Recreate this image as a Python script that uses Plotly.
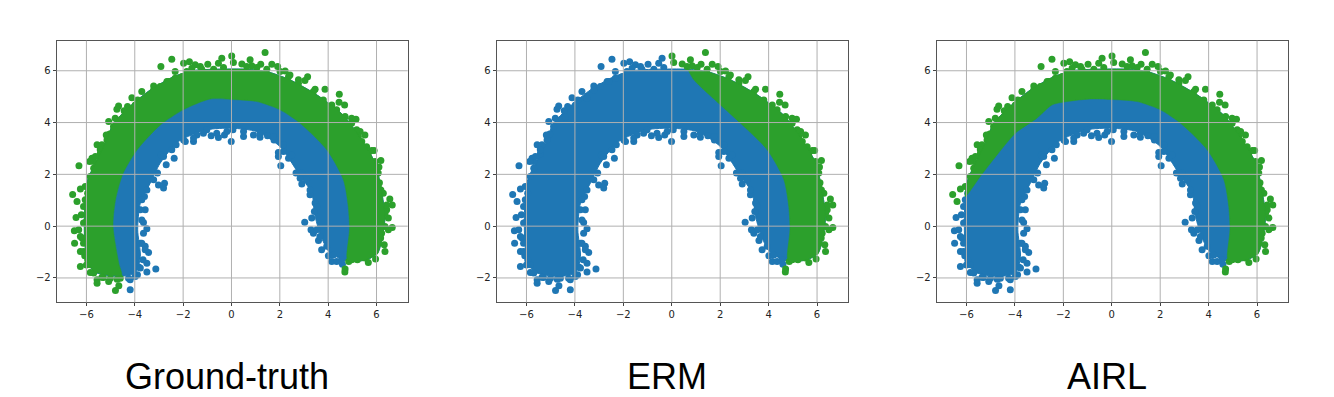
import plotly.graph_objects as go

BLUE = "#1f77b4"
GREEN = "#2ca02c"
GRID = "rgb(176,176,176)"

X_TICKS = [-6, -4, -2, 0, 2, 4, 6]
Y_TICKS = [-2, 0, 2, 4, 6]
PANEL_TITLES = ["Ground-truth", "ERM", "AIRL"]

# solid band: outer edge, left tail to right tip
OUTER = [(-5.70,-1.75),(-6.00,-1.17),(-6.08,-0.40),(-6.08,0.63),(-5.95,1.79),(-5.70,2.30),(-5.22,3.20),
         (-4.88,3.97),(-4.05,4.75),(-3.36,5.26),(-2.40,5.77),(-1.57,6.01),(-0.61,6.06),(0.63,6.06),
         (1.46,5.97),(2.42,5.65),(3.53,5.07),(4.63,4.28),(5.35,3.38),(5.95,2.43),(6.20,1.40),(6.35,0.37),
         (6.25,-0.40),(6.05,-1.04),(5.59,-1.30),(4.83,-1.36)]
# solid band: inner edge, right tip back to left tail
INNER = [(4.63,-1.30),(4.08,-1.04),(3.73,-0.46),(3.46,0.37),(3.32,1.27),(2.77,2.04),(2.01,3.07),(1.05,3.65),
         (0.01,3.78),(-1.02,3.72),(-2.19,3.27),(-2.95,2.43),(-3.36,1.66),(-3.77,0.89),(-3.88,-0.14),
         (-3.77,-1.17),(-3.98,-1.81),(-4.74,-1.94)]
# class boundaries, left to right
BOUNDARY_RIGHT = [(2.84,3.97),(3.94,2.95),(4.63,1.79),(4.83,0.76),(4.88,-0.14),(4.77,-1.17)]
BOUNDARY_TOP = [(-0.88,4.91),(0.01,4.89),(1.05,4.81),(2.01,4.49)]
GT_LEFT = [(-4.55,-1.89),(-4.66,-1.44),(-4.90,0.00),(-4.80,1.00),(-4.50,2.00),(-3.91,2.94),(-2.95,3.90),(-2.00,4.49)]
ERM_TOP = [(0.63,6.10),(0.91,5.65),(2.01,4.68)]
AIRL_LEFT = [(-6.05,1.14),(-5.43,1.92),(-4.74,2.75),(-3.98,3.59),(-3.09,4.17),(-2.47,4.68),(-1.85,4.81)]

# individually visible points along the edges
PTS_LEFT_TAIL = [(-6.43,0.33),(-6.21,0.44),(-6.05,0.14),(-6.50,-0.18),(-6.32,-0.14),(-6.49,-0.66),(-6.18,-0.46),
                 (-6.25,-0.98),(-6.07,-1.14),(-6.25,-1.56),(-5.84,-1.79),(-5.56,-2.07),(-5.56,-2.20),(-5.08,-2.14),
                 (-4.80,-2.48),(-4.66,-2.30),(-4.73,-2.05),(-5.30,-1.98),(-6.00,-1.50),
                 (-5.95,1.27),(-6.05,1.02),(-6.12,0.76),(-6.12,0.12),(-6.25,-0.40),(-6.12,-0.66),(-6.12,-0.98),
                 (-5.95,-1.30),(-5.84,-1.49),(-5.70,-1.81),(-5.36,-1.97),(-5.01,-2.01),(-4.60,-2.01)]
PTS_UPPER_LEFT = [(-6.31,2.33),(-6.25,1.43),(-6.57,1.22),(-6.39,0.95),(-6.05,1.53),(-5.77,2.62),(-5.70,2.50),
                  (-5.87,2.50),(-5.56,3.14),(-5.36,3.14),(-5.43,2.79),(-5.08,4.04),(-5.04,3.56),(-4.67,4.64),
                  (-4.74,4.51),(-4.30,4.62),(-4.44,4.46),(-4.12,4.96),(-3.71,5.20),(-3.22,5.41),(-2.92,6.16),
                  (-2.47,6.44),(-2.67,5.58),(-2.33,5.97),(-1.98,6.29),(-1.74,6.35),(-1.50,6.23),(-1.29,6.16),
                  (-0.98,6.25),(-0.54,6.29),(-0.40,6.48),
                  (-5.84,1.92),(-5.70,2.24),(-5.63,2.69),(-5.43,2.95),(-5.15,3.33),(-5.18,3.52),(-4.88,3.85),
                  (-4.81,4.17),(-4.39,4.21),(-3.98,4.68),(-3.88,4.87),(-3.50,4.94),(-3.22,5.26),(-2.95,5.39),
                  (-2.60,5.58),(-2.33,5.71),(-2.05,5.77),(-1.85,5.97),(-1.64,6.10),(-1.23,6.06),(-0.74,6.06),
                  (-0.33,6.13)]
PTS_UPPER_RIGHT = [(0.01,6.57),(0.43,6.26),(0.77,6.42),(0.84,6.19),(1.21,6.25),(1.39,6.70),(1.67,6.25),(1.91,6.16),
                   (2.22,5.99),(2.42,5.84),(2.77,5.65),(3.15,5.77),(3.04,5.62),(3.46,5.29),(3.87,5.29),(4.46,5.09),
                   (4.45,4.78),(4.68,4.68),(4.97,4.17),(5.15,4.13),(5.32,3.65),(5.52,3.52),(5.25,3.46),(5.59,3.07),
                   (5.80,2.92),(5.90,2.92),(6.18,2.53),(6.10,2.28),(6.07,2.05),(6.12,1.68),(6.18,1.40),(6.55,1.05),
                   (6.65,0.82),(6.42,0.63),(6.49,0.31),(6.65,-0.05),(6.49,-0.14),(6.17,-0.46),(6.32,-0.72),
                   (6.35,-0.98),(5.96,-1.27),(5.66,-1.40),(5.21,-1.30),(4.85,-1.36),(4.70,-1.65),(4.69,-1.77),
                   (0.08,6.32),(0.63,6.16),(1.05,6.13),(1.46,6.06),(2.01,5.97),(2.36,5.77),(2.77,5.52),(3.39,5.20),
                   (3.80,4.87),(4.15,4.68),(4.35,4.49),(4.70,4.23),(4.97,3.97),(5.18,3.72),(5.39,3.27),(5.66,2.82),
                   (5.94,2.50),(5.94,2.05),(6.07,1.53),(6.28,1.27),(6.42,0.82),(6.35,0.50),(6.35,-0.01),(6.21,-0.27),
                   (6.07,-0.66),(5.94,-0.98),(5.52,-1.23),(4.97,-1.30)]
PTS_INNER = [(-4.19,-2.46),(-4.19,-2.07),(-3.89,-1.88),(-3.50,-1.77),(-3.13,-1.65),(-3.84,-1.58),(-3.50,-1.43),
             (-3.43,-1.02),(-3.57,-0.78),(-3.71,-0.66),(-3.50,-0.10),(-3.64,0.14),(-3.57,0.63),(-3.60,1.14),
             (-3.02,1.59),(-2.77,1.66),(-2.81,1.47),(-2.70,2.37),(-2.37,2.62),(-2.91,2.75),(-2.29,3.14),(-1.91,3.27),
             (-1.57,3.27),(-1.43,3.52),(-1.02,3.72),(-0.84,3.49),(-0.54,3.42),(-0.29,3.52),(-0.01,3.27),(0.06,3.72),
             (0.50,3.46),(0.91,3.52),(1.18,3.43),(1.49,3.49),(1.76,3.33),(1.94,2.84),(1.94,2.69),(2.15,2.88),
             (2.36,2.62),(2.04,2.33),(2.67,2.05),(2.84,1.85),(2.91,1.63),(3.25,1.21),(3.46,0.89),(3.43,0.57),
             (3.03,0.15),(3.32,0.31),(3.29,-0.14),(3.39,-0.27),(3.60,-0.55),(3.73,-0.91),(4.01,-1.14),(4.15,-1.36),
             (4.35,-1.36),(4.59,-1.47),
             (-4.26,-2.01),(-3.98,-1.94),(-3.77,-1.62),(-3.66,-1.30),(-3.57,-0.91),(-3.77,-0.66),(-3.64,-0.27),
             (-3.71,0.24),(-3.77,0.63),(-3.71,1.02),(-3.50,1.40),(-3.22,1.79),(-3.06,2.05),(-2.81,2.69),(-2.47,2.95),
             (-1.98,3.33),(-1.57,3.40),(-1.16,3.59),(-0.61,3.59),(-0.19,3.65),(0.50,3.65),(1.18,3.59),(1.74,3.46),
             (2.15,3.14),(2.49,2.75),(2.91,2.05),(3.11,1.79),(3.25,1.40),(3.53,0.76),(3.53,-0.14),(3.66,-0.40),
             (3.94,-0.78),(4.21,-1.11),(4.56,-1.30)]

W, H = 1334, 397
PANELS_PX = [(56.7, 407.7), (496.7, 848.3), (936.7, 1288.3)]
TOP_PX, BOTTOM_PX = 40.7, 302.3
TITLE_X_PX = [226.5, 667, 1107]
TITLE_Y_PX = 376
MARKER_SIZE = 7

BAND = OUTER + INNER
GREEN_POLY = [
    OUTER + (GT_LEFT + BOUNDARY_TOP + BOUNDARY_RIGHT)[::-1],
    OUTER[13:] + (ERM_TOP + BOUNDARY_RIGHT)[::-1],
    OUTER[4:] + (AIRL_LEFT + BOUNDARY_TOP + BOUNDARY_RIGHT)[::-1],
]
POINTS_GREEN = [PTS_LEFT_TAIL + PTS_UPPER_LEFT + PTS_UPPER_RIGHT, PTS_UPPER_RIGHT, PTS_UPPER_LEFT + PTS_UPPER_RIGHT]
POINTS_BLUE = [PTS_INNER, PTS_LEFT_TAIL + PTS_UPPER_LEFT + PTS_INNER, PTS_LEFT_TAIL + PTS_INNER]


def xy(points):
    return [p[0] for p in points], [p[1] for p in points]


fig = go.Figure()
layout = dict(width=W, height=H, margin=dict(l=0, r=0, t=0, b=0), paper_bgcolor="white",
              plot_bgcolor="white", showlegend=False, shapes=[], annotations=[],
              font=dict(family="DejaVu Sans", color="#222222"))

for i, (x0, x1) in enumerate(PANELS_PX):
    ax = "" if i == 0 else str(i + 1)
    xa, ya = "x" + ax, "y" + ax
    common = dict(showline=True, mirror=True, linecolor="#555555", linewidth=1, ticks="outside", ticklen=3,
                  tickwidth=1, tickcolor="#444444", tickfont=dict(size=10, family="DejaVu Sans", color="#222222"),
                  showgrid=False, zeroline=False)
    layout["xaxis" + ax] = dict(domain=[x0 / W, x1 / W], range=[-7.23, 7.29], tickvals=X_TICKS,
                                anchor=ya, **common)
    layout["yaxis" + ax] = dict(domain=[1 - BOTTOM_PX / H, 1 - TOP_PX / H], range=[-2.94, 7.16], tickvals=Y_TICKS,
                                anchor=xa, **common)

    bx, by = xy(BAND + BAND[:1])
    fig.add_trace(go.Scatter(x=bx, y=by, xaxis=xa, yaxis=ya, mode="lines", fill="toself", fillcolor=BLUE,
                             line=dict(color=BLUE, width=1, shape="spline", smoothing=0.7), hoverinfo="skip"))
    px, py = xy(POINTS_BLUE[i])
    fig.add_trace(go.Scatter(x=px, y=py, xaxis=xa, yaxis=ya, mode="markers",
                             marker=dict(color=BLUE, size=MARKER_SIZE, line=dict(width=0))))
    px, py = xy(POINTS_GREEN[i])
    fig.add_trace(go.Scatter(x=px, y=py, xaxis=xa, yaxis=ya, mode="markers",
                             marker=dict(color=GREEN, size=MARKER_SIZE, line=dict(width=0))))
    gx, gy = xy(GREEN_POLY[i] + GREEN_POLY[i][:1])
    fig.add_trace(go.Scatter(x=gx, y=gy, xaxis=xa, yaxis=ya, mode="lines", fill="toself", fillcolor=GREEN,
                             line=dict(color=GREEN, width=0.5, shape="spline", smoothing=0.7), hoverinfo="skip"))

    for t in X_TICKS:
        layout["shapes"].append(dict(type="line", layer="above", xref=xa, yref=ya + " domain", x0=t, x1=t, y0=0, y1=1,
                                     line=dict(color=GRID, width=1)))
    for t in Y_TICKS:
        layout["shapes"].append(dict(type="line", layer="above", xref=xa + " domain", yref=ya, x0=0, x1=1, y0=t, y1=t,
                                     line=dict(color=GRID, width=1)))
    layout["annotations"].append(dict(text=PANEL_TITLES[i], xref="paper", yref="paper", x=TITLE_X_PX[i] / W,
                                      y=1 - TITLE_Y_PX / H, xanchor="center", yanchor="middle", showarrow=False,
                                      font=dict(family="Liberation Sans", size=36, color="black")))

fig.update_layout(**layout)
fig.write_html("out.html", post_script="document.body.style.margin='0';", config={"displayModeBar": False})
